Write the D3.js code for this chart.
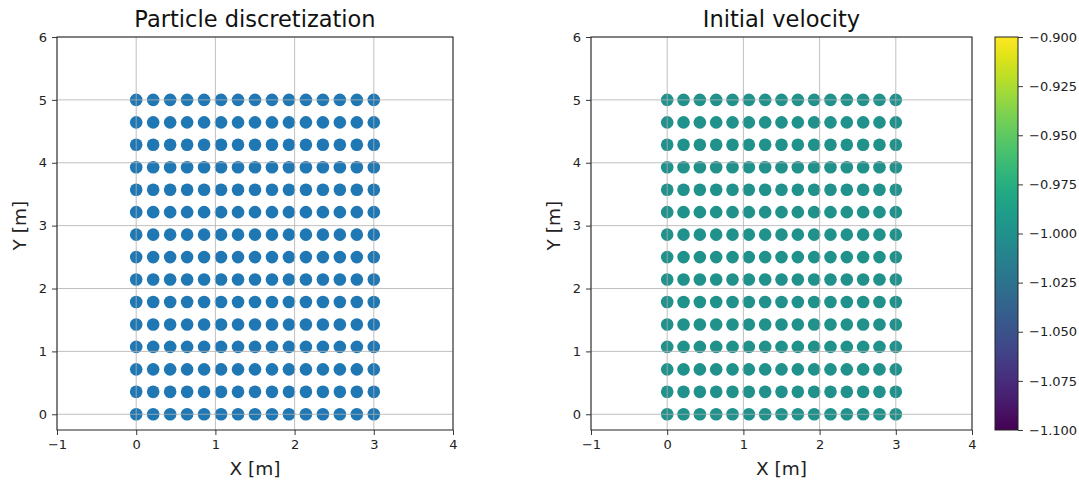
<!DOCTYPE html>
<html>
<head>
<meta charset="utf-8">
<script src="https://cdn.jsdelivr.net/npm/d3@7"></script>
<style>
  html, body { margin: 0; padding: 0; background: #fff; }
  svg { display: block; font-family: "DejaVu Sans", sans-serif; }
</style>
</head>
<body>
<svg id="chart" width="1079" height="480"></svg>
<script>
// Particle coordinates along each axis (m)
const particleX = [0, 0.2143, 0.4286, 0.6429, 0.8571, 1.0714, 1.2857, 1.5, 1.7143, 1.9286, 2.1429, 2.3571, 2.5714, 2.7857, 3.0];
const particleY = [0, 0.3571, 0.7143, 1.0714, 1.4286, 1.7857, 2.1429, 2.5, 2.8571, 3.2143, 3.5714, 3.9286, 4.2857, 4.6429, 5.0];
// Initial vertical velocity assigned to every particle
const initialVelocity = -1.0;
const xTicks = [-1, 0, 1, 2, 3, 4];
const yTicks = [0, 1, 2, 3, 4, 5, 6];
const colorbarTicks = [-0.900, -0.925, -0.950, -0.975, -1.000, -1.025, -1.050, -1.075, -1.100];
const colorRange = [-1.1, -0.9];

const particles = [];
particleY.forEach(y => particleX.forEach(x => particles.push({ x, y, v: initialVelocity })));

const svg = d3.select("#chart");
const viridis = d3.scaleSequential(d3.interpolateViridis).domain(colorRange);
const fmtMinus = s => s.replace("-", "\u2212");
const TICK_FONT = 13, LABEL_FONT = 18.5, TITLE_FONT = 22.5;

function styleAxis(a) {
  a.select(".domain").remove();
  a.selectAll("text").attr("font-size", TICK_FONT).attr("fill", "#222").attr("font-family", "DejaVu Sans");
  a.selectAll("line").attr("stroke", "#222").attr("stroke-width", 0.9);
}

function panel(opts) {
  const x = d3.scaleLinear().domain([-1, 4]).range([opts.left, opts.right]);
  const y = d3.scaleLinear().domain([-0.25, 6]).range([430, 37]);
  const g = svg.append("g");

  // scatter points
  g.append("g").selectAll("circle").data(particles).join("circle")
    .attr("cx", d => x(d.x)).attr("cy", d => y(d.y)).attr("r", 6.3)
    .attr("fill", opts.fill);

  // grid drawn over the points
  const grid = g.append("g").attr("stroke", "#b0b0b0").attr("stroke-width", 0.8);
  grid.selectAll(".gx").data(xTicks).join("line")
    .attr("x1", d => x(d)).attr("x2", d => x(d)).attr("y1", y(-0.25)).attr("y2", y(6));
  grid.selectAll(".gy").data(yTicks).join("line")
    .attr("x1", x(-1)).attr("x2", x(4)).attr("y1", d => y(d)).attr("y2", d => y(d));

  // axes
  const xAxis = d3.axisBottom(x).tickValues(xTicks).tickSize(5).tickPadding(5)
    .tickFormat(d => fmtMinus(String(d)));
  const yAxis = d3.axisLeft(y).tickValues(yTicks).tickSize(5).tickPadding(5)
    .tickFormat(d => String(d));
  styleAxis(g.append("g").attr("transform", `translate(0,${y(-0.25)})`).call(xAxis));
  styleAxis(g.append("g").attr("transform", `translate(${x(-1)},0)`).call(yAxis));

  // frame
  g.append("rect").attr("x", x(-1)).attr("y", y(6))
    .attr("width", x(4) - x(-1)).attr("height", y(-0.25) - y(6))
    .attr("fill", "none").attr("stroke", "#222").attr("stroke-width", 1);

  const cx = (x(-1) + x(4)) / 2;
  g.append("text").attr("x", cx).attr("y", 27).attr("text-anchor", "middle")
    .attr("font-size", TITLE_FONT).attr("fill", "#111").text(opts.title);
  g.append("text").attr("x", cx).attr("y", 475).attr("text-anchor", "middle")
    .attr("font-size", LABEL_FONT).attr("fill", "#222").text("X [m]");
  g.append("text").attr("transform", `translate(${opts.left - 31},${y(3)}) rotate(-90)`)
    .attr("text-anchor", "middle").attr("font-size", LABEL_FONT).attr("fill", "#222").text("Y [m]");
}

panel({ left: 57, right: 453, title: "Particle discretization", fill: "#1f77b4" });
panel({ left: 591, right: 972, title: "Initial velocity", fill: viridis(initialVelocity) });

// colorbar
const cb = { x: 995, w: 23, top: 37, bottom: 430 };
const cy = d3.scaleLinear().domain(colorRange).range([cb.bottom, cb.top]);
const defs = svg.append("defs");
const grad = defs.append("linearGradient").attr("id", "viridisGrad")
  .attr("x1", 0).attr("y1", 1).attr("x2", 0).attr("y2", 0);
d3.range(0, 1.0001, 0.05).forEach(t => {
  grad.append("stop").attr("offset", t).attr("stop-color", d3.interpolateViridis(t));
});
svg.append("rect").attr("x", cb.x).attr("y", cb.top).attr("width", cb.w)
  .attr("height", cb.bottom - cb.top).attr("fill", "url(#viridisGrad)")
  .attr("stroke", "#222").attr("stroke-width", 1);
const cAxis = d3.axisRight(cy).tickValues(colorbarTicks).tickSize(5).tickPadding(6)
  .tickFormat(d => fmtMinus(d3.format(".3f")(d)));
styleAxis(svg.append("g").attr("transform", `translate(${cb.x + cb.w},0)`).call(cAxis));
</script>
</body>
</html>
